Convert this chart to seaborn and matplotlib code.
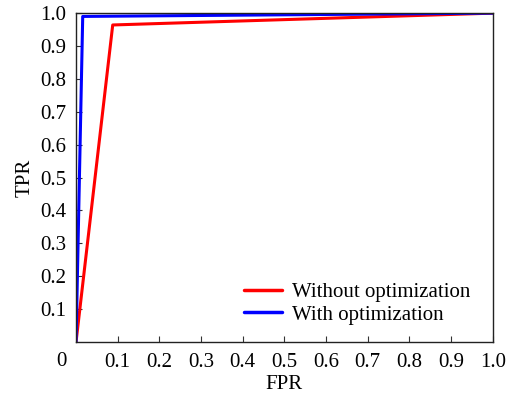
import matplotlib
matplotlib.use("Agg")
import matplotlib.pyplot as plt
import seaborn as sns
import pandas as pd

# ROC curve points
fpr_without = [0.0, 0.088, 1.0]
tpr_without = [0.0, 0.964, 1.0]
fpr_with = [0.0, 0.016, 1.0]
tpr_with = [0.0, 0.990, 1.0]
labels = ["Without optimization", "With optimization"]
colors = ["#ff0000", "#0000ff"]
ticks = [0.1, 0.2, 0.3, 0.4, 0.5, 0.6, 0.7, 0.8, 0.9, 1.0]

sns.set_theme(style="white", rc={"xtick.bottom": True, "ytick.left": True,
                                 "text.color": "black", "axes.labelcolor": "black",
                                 "xtick.color": "#333333", "ytick.color": "#333333"})
plt.rcParams["font.family"] = ["Liberation Serif", "DejaVu Serif"]

df = pd.concat([
    pd.DataFrame({"FPR": fpr_without, "TPR": tpr_without, "model": labels[0]}),
    pd.DataFrame({"FPR": fpr_with, "TPR": tpr_with, "model": labels[1]}),
])

fig = plt.figure(figsize=(5.07, 3.98), dpi=100)
ax = fig.add_axes([0.150, 0.141, 0.822, 0.826])

sns.lineplot(data=df, x="FPR", y="TPR", hue="model", palette=colors,
             sort=False, estimator=None, linewidth=2.2, ax=ax)

ax.set_xlim(0, 1.0)
ax.set_ylim(0, 1.0)
ax.set_xticks(ticks)
ax.set_yticks(ticks)
ax.set_xticklabels([f"{t:.1f}" for t in ticks])
ax.set_yticklabels([f"{t:.1f}" for t in ticks])
ax.tick_params(axis="both", direction="in", length=4, width=0.8, labelsize=15,
               labelcolor="black")
ax.tick_params(axis="y", pad=7)
ax.tick_params(axis="x", pad=8)
for s in ax.spines.values():
    s.set_color("#222222")
    s.set_linewidth(1.0)

ax.set_xlabel("FPR", fontsize=15, labelpad=2)
ax.set_ylabel("TPR", fontsize=15, labelpad=4)
ax.text(-0.035, -0.03, "0", transform=ax.transAxes, fontsize=15,
        ha="center", va="top")

leg = ax.legend(loc="lower right", frameon=False, fontsize=15,
                handlelength=1.85, handletextpad=0.45, labelspacing=0.15,
                bbox_to_anchor=(0.99, -0.005))
for h in leg.get_lines():
    h.set_linewidth(2.5)

fig.savefig("out.png", dpi=100)
